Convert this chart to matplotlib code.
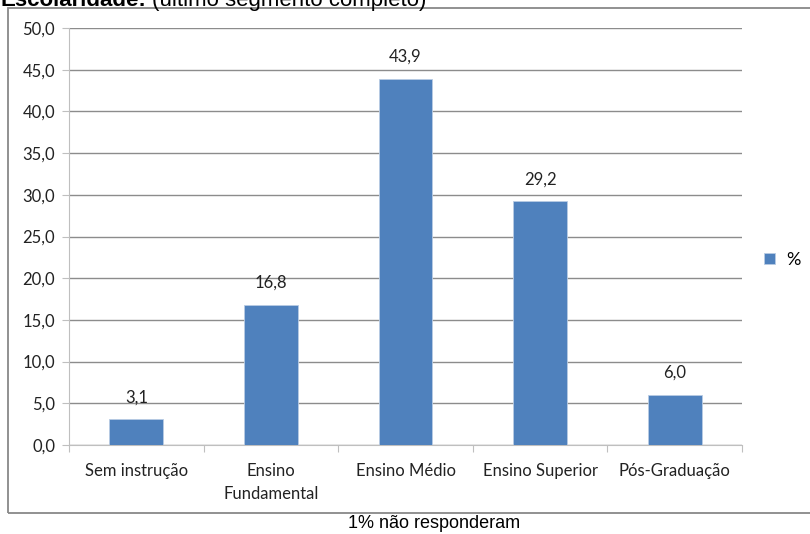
import matplotlib
matplotlib.use("Agg")
import matplotlib.pyplot as plt
from matplotlib.patches import Rectangle

categories = ["Sem instrução", "Ensino\nFundamental", "Ensino Médio", "Ensino Superior", "Pós-Graduação"]
values = [3.1, 16.8, 43.9, 29.2, 6.0]
yticks = [0, 5, 10, 15, 20, 25, 30, 35, 40, 45, 50]
series_name = "%"

W, H = 810, 534
fig = plt.figure(figsize=(W / 100, H / 100), dpi=100)
fig.patch.set_facecolor("white")

# outer frame
fig.patches.append(Rectangle((8 / W, 1 - 513 / H), 1.2, (513 - 8) / H,
                             transform=fig.transFigure, fill=False,
                             edgecolor="#888888", linewidth=1.3))

ax = fig.add_axes([69 / W, 1 - 445 / H, (742 - 69) / W, (445 - 28) / H])
tickfont = "Lato"
fs = 12
x = list(range(len(categories)))
bars = ax.bar(x, values, width=0.4, color="#4F81BD", edgecolor="#B8CCE4",
              linewidth=0.6, zorder=3, label=series_name)
ax.set_xlim(-0.5, len(categories) - 0.5)
ax.set_ylim(0, 50)
ax.set_yticks(yticks)
ax.set_yticklabels([f"{v:.1f}".replace(".", ",") for v in yticks],
                   fontname=tickfont, fontsize=fs, color="#222222")
ax.yaxis.grid(True, color="#8c8c8c", linewidth=1.0, zorder=0)
ax.set_axisbelow(True)
for s in ["top", "right"]:
    ax.spines[s].set_visible(False)
ax.spines["left"].set_color("#bfbfbf")
ax.spines["bottom"].set_color("#bfbfbf")
ax.tick_params(axis="y", length=5, color="#bfbfbf", pad=5)
ax.set_xticks([i - 0.5 for i in range(len(categories) + 1)], minor=False)
ax.set_xticklabels([])
ax.tick_params(axis="x", length=5, color="#bfbfbf", direction="out")
ax.set_xticks(x, minor=True)
ax.set_xticklabels(categories, minor=True, fontname=tickfont, fontsize=fs,
                   color="#222222", linespacing=1.55)
ax.tick_params(axis="x", which="minor", length=0, pad=13)

for xi, v in zip(x, values):
    ax.annotate(f"{v:.1f}".replace(".", ","), (xi, v), xytext=(0, 10),
                textcoords="offset points", ha="center", va="bottom",
                fontname=tickfont, fontsize=fs, color="#222222")

leg = fig.legend(handles=[bars], labels=[series_name], loc="center left",
                 bbox_to_anchor=(748 / W, 1 - 260 / H), frameon=False,
                 handlelength=0.6, handleheight=0.6, handletextpad=0.6,
                 prop={"family": tickfont, "size": 13})

# title (partially cut off at top, as in the reference)
fig.text(0 / W, 1 - 6 / H, "Escolaridade:", fontname="Liberation Sans",
         fontsize=16, fontweight="bold", va="baseline", ha="left")
fig.text(152 / W, 1 - 6 / H, "(último segmento completo)", fontname="Liberation Sans",
         fontsize=16, va="baseline", ha="left")

fig.text(434 / W, 1 - 523 / H, "1% não responderam", fontname="Liberation Sans",
         fontsize=13, ha="center", va="center")

fig.savefig("out.png", dpi=100)
